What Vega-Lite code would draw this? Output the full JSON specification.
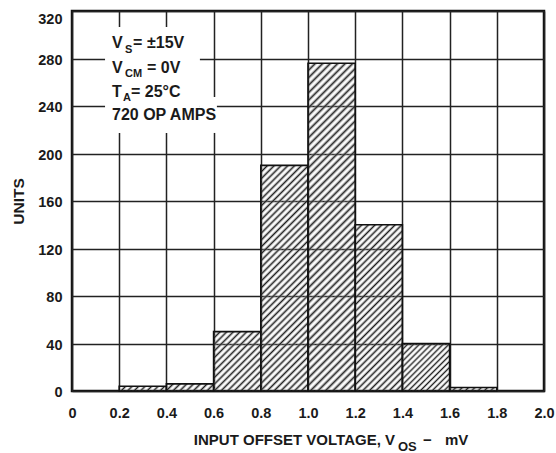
{
  "$schema": "https://vega.github.io/schema/vega-lite/v6.json",
  "width": 472,
  "height": 380,
  "autosize": {"type": "none"},
  "padding": {"left": 72, "top": 11, "right": 12, "bottom": 62},
  "background": "#ffffff",
  "config": {
    "font": "Liberation Sans",
    "view": {"stroke": "#111111", "strokeWidth": 2.5},
    "axis": {
      "labelFont": "Liberation Sans",
      "labelFontWeight": "bold",
      "labelFontSize": 14.5,
      "labelColor": "#1a1a1a",
      "titleFont": "Liberation Sans",
      "titleFontWeight": "bold",
      "titleFontSize": 15.5,
      "titleColor": "#1a1a1a",
      "domain": false,
      "ticks": false,
      "grid": true,
      "gridColor": "#222222",
      "gridWidth": 1.5,
      "gridOpacity": 1,
      "labelFlush": false,
      "labelOverlap": false
    }
  },
  "layer": [
    {
      "data": {
        "values": [
          {"v_lo": 0.2, "v_hi": 0.4, "units": 4},
          {"v_lo": 0.4, "v_hi": 0.6, "units": 6},
          {"v_lo": 0.6, "v_hi": 0.8, "units": 50},
          {"v_lo": 0.8, "v_hi": 1.0, "units": 190},
          {"v_lo": 1.0, "v_hi": 1.2, "units": 276},
          {"v_lo": 1.2, "v_hi": 1.4, "units": 140},
          {"v_lo": 1.4, "v_hi": 1.6, "units": 40},
          {"v_lo": 1.6, "v_hi": 1.8, "units": 3}
        ]
      },
      "mark": {"type": "rect", "stroke": "#111111", "strokeWidth": 1.6},
      "encoding": {
        "x": {
          "field": "v_lo", "type": "quantitative",
          "scale": {"domain": [0, 2], "nice": false, "zero": false},
          "axis": {
            "values": [0, 0.2, 0.4, 0.6, 0.8, 1.0, 1.2, 1.4, 1.6, 1.8, 2.0],
            "labelExpr": "datum.value == 0 ? '0' : format(datum.value, '.1f')",
            "labelPadding": 15,
            "title": null
          }
        },
        "x2": {"field": "v_hi"},
        "y": {
          "field": "units", "type": "quantitative",
          "scale": {"domain": [0, 320], "nice": false},
          "axis": {
            "values": [0, 40, 80, 120, 160, 200, 240, 280, 320],
            "labelPadding": 10,
            "labelOffset": 1.5,
            "labelBaseline": {"condition": {"test": "datum.value == 320", "value": "top"}, "value": "middle"},
            "title": "UNITS",
            "titlePadding": 11
          }
        },
        "y2": {"datum": 0},
        "fill": {
          "condition": [
            {"test": "datum.v_lo == 1.0", "value": {"gradient": "linear", "x1": 0, "y1": 0, "x2": 0.1614, "y2": 1.12077, "stops": [
              {"offset": 0, "color": "#1c1c1c"}, {"offset": 0.01, "color": "#fff0"}, {"offset": 0.02, "color": "#1c1c1c"}, {"offset": 0.03, "color": "#fff0"}, {"offset": 0.04, "color": "#1c1c1c"}, {"offset": 0.05, "color": "#fff0"}, {"offset": 0.06, "color": "#1c1c1c"}, {"offset": 0.07, "color": "#fff0"}, {"offset": 0.08, "color": "#1c1c1c"}, {"offset": 0.09, "color": "#fff0"},
              {"offset": 0.10, "color": "#1c1c1c"}, {"offset": 0.11, "color": "#fff0"}, {"offset": 0.12, "color": "#1c1c1c"}, {"offset": 0.13, "color": "#fff0"}, {"offset": 0.14, "color": "#1c1c1c"}, {"offset": 0.15, "color": "#fff0"}, {"offset": 0.16, "color": "#1c1c1c"}, {"offset": 0.17, "color": "#fff0"}, {"offset": 0.18, "color": "#1c1c1c"}, {"offset": 0.19, "color": "#fff0"},
              {"offset": 0.20, "color": "#1c1c1c"}, {"offset": 0.21, "color": "#fff0"}, {"offset": 0.22, "color": "#1c1c1c"}, {"offset": 0.23, "color": "#fff0"}, {"offset": 0.24, "color": "#1c1c1c"}, {"offset": 0.25, "color": "#fff0"}, {"offset": 0.26, "color": "#1c1c1c"}, {"offset": 0.27, "color": "#fff0"}, {"offset": 0.28, "color": "#1c1c1c"}, {"offset": 0.29, "color": "#fff0"},
              {"offset": 0.30, "color": "#1c1c1c"}, {"offset": 0.31, "color": "#fff0"}, {"offset": 0.32, "color": "#1c1c1c"}, {"offset": 0.33, "color": "#fff0"}, {"offset": 0.34, "color": "#1c1c1c"}, {"offset": 0.35, "color": "#fff0"}, {"offset": 0.36, "color": "#1c1c1c"}, {"offset": 0.37, "color": "#fff0"}, {"offset": 0.38, "color": "#1c1c1c"}, {"offset": 0.39, "color": "#fff0"},
              {"offset": 0.40, "color": "#1c1c1c"}, {"offset": 0.41, "color": "#fff0"}, {"offset": 0.42, "color": "#1c1c1c"}, {"offset": 0.43, "color": "#fff0"}, {"offset": 0.44, "color": "#1c1c1c"}, {"offset": 0.45, "color": "#fff0"}, {"offset": 0.46, "color": "#1c1c1c"}, {"offset": 0.47, "color": "#fff0"}, {"offset": 0.48, "color": "#1c1c1c"}, {"offset": 0.49, "color": "#fff0"},
              {"offset": 0.50, "color": "#1c1c1c"}, {"offset": 0.51, "color": "#fff0"}, {"offset": 0.52, "color": "#1c1c1c"}, {"offset": 0.53, "color": "#fff0"}, {"offset": 0.54, "color": "#1c1c1c"}, {"offset": 0.55, "color": "#fff0"}, {"offset": 0.56, "color": "#1c1c1c"}, {"offset": 0.57, "color": "#fff0"}, {"offset": 0.58, "color": "#1c1c1c"}, {"offset": 0.59, "color": "#fff0"},
              {"offset": 0.60, "color": "#1c1c1c"}, {"offset": 0.61, "color": "#fff0"}, {"offset": 0.62, "color": "#1c1c1c"}, {"offset": 0.63, "color": "#fff0"}, {"offset": 0.64, "color": "#1c1c1c"}, {"offset": 0.65, "color": "#fff0"}, {"offset": 0.66, "color": "#1c1c1c"}, {"offset": 0.67, "color": "#fff0"}, {"offset": 0.68, "color": "#1c1c1c"}, {"offset": 0.69, "color": "#fff0"},
              {"offset": 0.70, "color": "#1c1c1c"}, {"offset": 0.71, "color": "#fff0"}, {"offset": 0.72, "color": "#1c1c1c"}, {"offset": 0.73, "color": "#fff0"}, {"offset": 0.74, "color": "#1c1c1c"}, {"offset": 0.75, "color": "#fff0"}, {"offset": 0.76, "color": "#1c1c1c"}, {"offset": 0.77, "color": "#fff0"}, {"offset": 0.78, "color": "#1c1c1c"}, {"offset": 0.79, "color": "#fff0"},
              {"offset": 0.80, "color": "#1c1c1c"}, {"offset": 0.81, "color": "#fff0"}, {"offset": 0.82, "color": "#1c1c1c"}, {"offset": 0.83, "color": "#fff0"}, {"offset": 0.84, "color": "#1c1c1c"}, {"offset": 0.85, "color": "#fff0"}, {"offset": 0.86, "color": "#1c1c1c"}, {"offset": 0.87, "color": "#fff0"}, {"offset": 0.88, "color": "#1c1c1c"}, {"offset": 0.89, "color": "#fff0"},
              {"offset": 0.90, "color": "#1c1c1c"}, {"offset": 0.91, "color": "#fff0"}, {"offset": 0.92, "color": "#1c1c1c"}, {"offset": 0.93, "color": "#fff0"}, {"offset": 0.94, "color": "#1c1c1c"}, {"offset": 0.95, "color": "#fff0"}, {"offset": 0.96, "color": "#1c1c1c"}, {"offset": 0.97, "color": "#fff0"}, {"offset": 0.98, "color": "#1c1c1c"}, {"offset": 0.99, "color": "#fff0"},
              {"offset": 1, "color": "#1c1c1c"}
            ]}},
            {"test": "datum.v_lo == 0.8", "value": {"gradient": "linear", "x1": 0, "y1": 0, "x2": 0.24236, "y2": 1.15852, "stops": [
              {"offset": 0, "color": "#1c1c1c"}, {"offset": 0.0125, "color": "#fff0"}, {"offset": 0.025, "color": "#1c1c1c"}, {"offset": 0.0375, "color": "#fff0"}, {"offset": 0.05, "color": "#1c1c1c"}, {"offset": 0.0625, "color": "#fff0"}, {"offset": 0.075, "color": "#1c1c1c"}, {"offset": 0.0875, "color": "#fff0"},
              {"offset": 0.1, "color": "#1c1c1c"}, {"offset": 0.1125, "color": "#fff0"}, {"offset": 0.125, "color": "#1c1c1c"}, {"offset": 0.1375, "color": "#fff0"}, {"offset": 0.15, "color": "#1c1c1c"}, {"offset": 0.1625, "color": "#fff0"}, {"offset": 0.175, "color": "#1c1c1c"}, {"offset": 0.1875, "color": "#fff0"},
              {"offset": 0.2, "color": "#1c1c1c"}, {"offset": 0.2125, "color": "#fff0"}, {"offset": 0.225, "color": "#1c1c1c"}, {"offset": 0.2375, "color": "#fff0"}, {"offset": 0.25, "color": "#1c1c1c"}, {"offset": 0.2625, "color": "#fff0"}, {"offset": 0.275, "color": "#1c1c1c"}, {"offset": 0.2875, "color": "#fff0"},
              {"offset": 0.3, "color": "#1c1c1c"}, {"offset": 0.3125, "color": "#fff0"}, {"offset": 0.325, "color": "#1c1c1c"}, {"offset": 0.3375, "color": "#fff0"}, {"offset": 0.35, "color": "#1c1c1c"}, {"offset": 0.3625, "color": "#fff0"}, {"offset": 0.375, "color": "#1c1c1c"}, {"offset": 0.3875, "color": "#fff0"},
              {"offset": 0.4, "color": "#1c1c1c"}, {"offset": 0.4125, "color": "#fff0"}, {"offset": 0.425, "color": "#1c1c1c"}, {"offset": 0.4375, "color": "#fff0"}, {"offset": 0.45, "color": "#1c1c1c"}, {"offset": 0.4625, "color": "#fff0"}, {"offset": 0.475, "color": "#1c1c1c"}, {"offset": 0.4875, "color": "#fff0"},
              {"offset": 0.5, "color": "#1c1c1c"}, {"offset": 0.5125, "color": "#fff0"}, {"offset": 0.525, "color": "#1c1c1c"}, {"offset": 0.5375, "color": "#fff0"}, {"offset": 0.55, "color": "#1c1c1c"}, {"offset": 0.5625, "color": "#fff0"}, {"offset": 0.575, "color": "#1c1c1c"}, {"offset": 0.5875, "color": "#fff0"},
              {"offset": 0.6, "color": "#1c1c1c"}, {"offset": 0.6125, "color": "#fff0"}, {"offset": 0.625, "color": "#1c1c1c"}, {"offset": 0.6375, "color": "#fff0"}, {"offset": 0.65, "color": "#1c1c1c"}, {"offset": 0.6625, "color": "#fff0"}, {"offset": 0.675, "color": "#1c1c1c"}, {"offset": 0.6875, "color": "#fff0"},
              {"offset": 0.7, "color": "#1c1c1c"}, {"offset": 0.7125, "color": "#fff0"}, {"offset": 0.725, "color": "#1c1c1c"}, {"offset": 0.7375, "color": "#fff0"}, {"offset": 0.75, "color": "#1c1c1c"}, {"offset": 0.7625, "color": "#fff0"}, {"offset": 0.775, "color": "#1c1c1c"}, {"offset": 0.7875, "color": "#fff0"},
              {"offset": 0.8, "color": "#1c1c1c"}, {"offset": 0.8125, "color": "#fff0"}, {"offset": 0.825, "color": "#1c1c1c"}, {"offset": 0.8375, "color": "#fff0"}, {"offset": 0.85, "color": "#1c1c1c"}, {"offset": 0.8625, "color": "#fff0"}, {"offset": 0.875, "color": "#1c1c1c"}, {"offset": 0.8875, "color": "#fff0"},
              {"offset": 0.9, "color": "#1c1c1c"}, {"offset": 0.9125, "color": "#fff0"}, {"offset": 0.925, "color": "#1c1c1c"}, {"offset": 0.9375, "color": "#fff0"}, {"offset": 0.95, "color": "#1c1c1c"}, {"offset": 0.9625, "color": "#fff0"}, {"offset": 0.975, "color": "#1c1c1c"}, {"offset": 0.9875, "color": "#fff0"},
              {"offset": 1, "color": "#1c1c1c"}
            ]}},
            {"test": "datum.v_lo == 1.2", "value": {"gradient": "linear", "x1": 0, "y1": 0, "x2": 0.33732, "y2": 1.18814, "stops": [
              {"offset": 0, "color": "#1c1c1c"}, {"offset": 0.015625, "color": "#fff0"}, {"offset": 0.03125, "color": "#1c1c1c"}, {"offset": 0.046875, "color": "#fff0"}, {"offset": 0.0625, "color": "#1c1c1c"}, {"offset": 0.078125, "color": "#fff0"}, {"offset": 0.09375, "color": "#1c1c1c"}, {"offset": 0.109375, "color": "#fff0"},
              {"offset": 0.125, "color": "#1c1c1c"}, {"offset": 0.140625, "color": "#fff0"}, {"offset": 0.15625, "color": "#1c1c1c"}, {"offset": 0.171875, "color": "#fff0"}, {"offset": 0.1875, "color": "#1c1c1c"}, {"offset": 0.203125, "color": "#fff0"}, {"offset": 0.21875, "color": "#1c1c1c"}, {"offset": 0.234375, "color": "#fff0"},
              {"offset": 0.25, "color": "#1c1c1c"}, {"offset": 0.265625, "color": "#fff0"}, {"offset": 0.28125, "color": "#1c1c1c"}, {"offset": 0.296875, "color": "#fff0"}, {"offset": 0.3125, "color": "#1c1c1c"}, {"offset": 0.328125, "color": "#fff0"}, {"offset": 0.34375, "color": "#1c1c1c"}, {"offset": 0.359375, "color": "#fff0"},
              {"offset": 0.375, "color": "#1c1c1c"}, {"offset": 0.390625, "color": "#fff0"}, {"offset": 0.40625, "color": "#1c1c1c"}, {"offset": 0.421875, "color": "#fff0"}, {"offset": 0.4375, "color": "#1c1c1c"}, {"offset": 0.453125, "color": "#fff0"}, {"offset": 0.46875, "color": "#1c1c1c"}, {"offset": 0.484375, "color": "#fff0"},
              {"offset": 0.5, "color": "#1c1c1c"}, {"offset": 0.515625, "color": "#fff0"}, {"offset": 0.53125, "color": "#1c1c1c"}, {"offset": 0.546875, "color": "#fff0"}, {"offset": 0.5625, "color": "#1c1c1c"}, {"offset": 0.578125, "color": "#fff0"}, {"offset": 0.59375, "color": "#1c1c1c"}, {"offset": 0.609375, "color": "#fff0"},
              {"offset": 0.625, "color": "#1c1c1c"}, {"offset": 0.640625, "color": "#fff0"}, {"offset": 0.65625, "color": "#1c1c1c"}, {"offset": 0.671875, "color": "#fff0"}, {"offset": 0.6875, "color": "#1c1c1c"}, {"offset": 0.703125, "color": "#fff0"}, {"offset": 0.71875, "color": "#1c1c1c"}, {"offset": 0.734375, "color": "#fff0"},
              {"offset": 0.75, "color": "#1c1c1c"}, {"offset": 0.765625, "color": "#fff0"}, {"offset": 0.78125, "color": "#1c1c1c"}, {"offset": 0.796875, "color": "#fff0"}, {"offset": 0.8125, "color": "#1c1c1c"}, {"offset": 0.828125, "color": "#fff0"}, {"offset": 0.84375, "color": "#1c1c1c"}, {"offset": 0.859375, "color": "#fff0"},
              {"offset": 0.875, "color": "#1c1c1c"}, {"offset": 0.890625, "color": "#fff0"}, {"offset": 0.90625, "color": "#1c1c1c"}, {"offset": 0.921875, "color": "#fff0"}, {"offset": 0.9375, "color": "#1c1c1c"}, {"offset": 0.953125, "color": "#fff0"}, {"offset": 0.96875, "color": "#1c1c1c"}, {"offset": 0.984375, "color": "#fff0"},
              {"offset": 1, "color": "#1c1c1c"}
            ]}},
            {"test": "datum.v_lo == 0.6", "value": {"gradient": "linear", "x1": 0, "y1": 0, "x2": 0.8744, "y2": 1.0999, "stops": [
              {"offset": 0, "color": "#1c1c1c"}, {"offset": 0.03125, "color": "#fff0"}, {"offset": 0.0625, "color": "#1c1c1c"}, {"offset": 0.09375, "color": "#fff0"}, {"offset": 0.125, "color": "#1c1c1c"}, {"offset": 0.15625, "color": "#fff0"}, {"offset": 0.1875, "color": "#1c1c1c"}, {"offset": 0.21875, "color": "#fff0"},
              {"offset": 0.25, "color": "#1c1c1c"}, {"offset": 0.28125, "color": "#fff0"}, {"offset": 0.3125, "color": "#1c1c1c"}, {"offset": 0.34375, "color": "#fff0"}, {"offset": 0.375, "color": "#1c1c1c"}, {"offset": 0.40625, "color": "#fff0"}, {"offset": 0.4375, "color": "#1c1c1c"}, {"offset": 0.46875, "color": "#fff0"},
              {"offset": 0.5, "color": "#1c1c1c"}, {"offset": 0.53125, "color": "#fff0"}, {"offset": 0.5625, "color": "#1c1c1c"}, {"offset": 0.59375, "color": "#fff0"}, {"offset": 0.625, "color": "#1c1c1c"}, {"offset": 0.65625, "color": "#fff0"}, {"offset": 0.6875, "color": "#1c1c1c"}, {"offset": 0.71875, "color": "#fff0"},
              {"offset": 0.75, "color": "#1c1c1c"}, {"offset": 0.78125, "color": "#fff0"}, {"offset": 0.8125, "color": "#1c1c1c"}, {"offset": 0.84375, "color": "#fff0"}, {"offset": 0.875, "color": "#1c1c1c"}, {"offset": 0.90625, "color": "#fff0"}, {"offset": 0.9375, "color": "#1c1c1c"}, {"offset": 0.96875, "color": "#fff0"},
              {"offset": 1, "color": "#1c1c1c"}
            ]}},
            {"test": "datum.v_lo == 1.4", "value": {"gradient": "linear", "x1": 0, "y1": 0, "x2": 0.99683, "y2": 1.00316, "stops": [
              {"offset": 0, "color": "#1c1c1c"}, {"offset": 0.03125, "color": "#fff0"}, {"offset": 0.0625, "color": "#1c1c1c"}, {"offset": 0.09375, "color": "#fff0"}, {"offset": 0.125, "color": "#1c1c1c"}, {"offset": 0.15625, "color": "#fff0"}, {"offset": 0.1875, "color": "#1c1c1c"}, {"offset": 0.21875, "color": "#fff0"},
              {"offset": 0.25, "color": "#1c1c1c"}, {"offset": 0.28125, "color": "#fff0"}, {"offset": 0.3125, "color": "#1c1c1c"}, {"offset": 0.34375, "color": "#fff0"}, {"offset": 0.375, "color": "#1c1c1c"}, {"offset": 0.40625, "color": "#fff0"}, {"offset": 0.4375, "color": "#1c1c1c"}, {"offset": 0.46875, "color": "#fff0"},
              {"offset": 0.5, "color": "#1c1c1c"}, {"offset": 0.53125, "color": "#fff0"}, {"offset": 0.5625, "color": "#1c1c1c"}, {"offset": 0.59375, "color": "#fff0"}, {"offset": 0.625, "color": "#1c1c1c"}, {"offset": 0.65625, "color": "#fff0"}, {"offset": 0.6875, "color": "#1c1c1c"}, {"offset": 0.71875, "color": "#fff0"},
              {"offset": 0.75, "color": "#1c1c1c"}, {"offset": 0.78125, "color": "#fff0"}, {"offset": 0.8125, "color": "#1c1c1c"}, {"offset": 0.84375, "color": "#fff0"}, {"offset": 0.875, "color": "#1c1c1c"}, {"offset": 0.90625, "color": "#fff0"}, {"offset": 0.9375, "color": "#1c1c1c"}, {"offset": 0.96875, "color": "#fff0"},
              {"offset": 1, "color": "#1c1c1c"}
            ]}},
            {"test": "datum.v_lo == 0.4", "value": {"gradient": "linear", "x1": 0, "y1": 0, "x2": 1.1254, "y2": 0.1699, "stops": [
              {"offset": 0, "color": "#1c1c1c"}, {"offset": 0.0625, "color": "#fff0"}, {"offset": 0.125, "color": "#1c1c1c"}, {"offset": 0.1875, "color": "#fff0"}, {"offset": 0.25, "color": "#1c1c1c"}, {"offset": 0.3125, "color": "#fff0"}, {"offset": 0.375, "color": "#1c1c1c"}, {"offset": 0.4375, "color": "#fff0"},
              {"offset": 0.5, "color": "#1c1c1c"}, {"offset": 0.5625, "color": "#fff0"}, {"offset": 0.625, "color": "#1c1c1c"}, {"offset": 0.6875, "color": "#fff0"}, {"offset": 0.75, "color": "#1c1c1c"}, {"offset": 0.8125, "color": "#fff0"}, {"offset": 0.875, "color": "#1c1c1c"}, {"offset": 0.9375, "color": "#fff0"},
              {"offset": 1, "color": "#1c1c1c"}
            ]}},
            {"test": "datum.v_lo == 0.2", "value": {"gradient": "linear", "x1": 0, "y1": 0, "x2": 1.0896, "y2": 0.1097, "stops": [
              {"offset": 0, "color": "#1c1c1c"}, {"offset": 0.0625, "color": "#fff0"}, {"offset": 0.125, "color": "#1c1c1c"}, {"offset": 0.1875, "color": "#fff0"}, {"offset": 0.25, "color": "#1c1c1c"}, {"offset": 0.3125, "color": "#fff0"}, {"offset": 0.375, "color": "#1c1c1c"}, {"offset": 0.4375, "color": "#fff0"},
              {"offset": 0.5, "color": "#1c1c1c"}, {"offset": 0.5625, "color": "#fff0"}, {"offset": 0.625, "color": "#1c1c1c"}, {"offset": 0.6875, "color": "#fff0"}, {"offset": 0.75, "color": "#1c1c1c"}, {"offset": 0.8125, "color": "#fff0"}, {"offset": 0.875, "color": "#1c1c1c"}, {"offset": 0.9375, "color": "#fff0"},
              {"offset": 1, "color": "#1c1c1c"}
            ]}}
          ],
          "value": {"gradient": "linear", "x1": 0, "y1": 0, "x2": 1.06941, "y2": 0.08071, "stops": [
            {"offset": 0, "color": "#1c1c1c"}, {"offset": 0.0625, "color": "#fff0"}, {"offset": 0.125, "color": "#1c1c1c"}, {"offset": 0.1875, "color": "#fff0"}, {"offset": 0.25, "color": "#1c1c1c"}, {"offset": 0.3125, "color": "#fff0"}, {"offset": 0.375, "color": "#1c1c1c"}, {"offset": 0.4375, "color": "#fff0"},
            {"offset": 0.5, "color": "#1c1c1c"}, {"offset": 0.5625, "color": "#fff0"}, {"offset": 0.625, "color": "#1c1c1c"}, {"offset": 0.6875, "color": "#fff0"}, {"offset": 0.75, "color": "#1c1c1c"}, {"offset": 0.8125, "color": "#fff0"}, {"offset": 0.875, "color": "#1c1c1c"}, {"offset": 0.9375, "color": "#fff0"},
            {"offset": 1, "color": "#1c1c1c"}
          ]}
        }
      }
    },
    {
      "data": {"values": [{}]},
      "mark": {"type": "rect", "fill": "#ffffff", "stroke": null},
      "encoding": {
        "x": {"datum": 0.14, "type": "quantitative"},
        "x2": {"datum": 0.542},
        "y": {"datum": 306.5, "type": "quantitative"},
        "y2": {"datum": 217.3}
      }
    },
    {
      "data": {"values": [{}]},
      "mark": {"type": "rect", "fill": "#ffffff", "stroke": null},
      "encoding": {
        "x": {"datum": 0.542, "type": "quantitative"},
        "x2": {"datum": 0.614},
        "y": {"datum": 247.6, "type": "quantitative"},
        "y2": {"datum": 217.3}
      }
    },
    {
      "data": {"values": [{}]},
      "mark": {"type": "text", "text": "V", "align": "left", "baseline": "alphabetic", "font": "Liberation Sans", "fontWeight": "bold", "fontSize": 16, "color": "#1a1a1a"},
      "encoding": {"x": {"datum": 0.1695, "type": "quantitative"}, "y": {"datum": 288.5, "type": "quantitative"}}
    },
    {
      "data": {"values": [{}]},
      "mark": {"type": "text", "text": "S", "align": "left", "baseline": "alphabetic", "dx": 13, "dy": 4.5, "font": "Liberation Sans", "fontWeight": "bold", "fontSize": 11, "color": "#1a1a1a"},
      "encoding": {"x": {"datum": 0.1695, "type": "quantitative"}, "y": {"datum": 288.5, "type": "quantitative"}}
    },
    {
      "data": {"values": [{}]},
      "mark": {"type": "text", "text": "=", "align": "left", "baseline": "alphabetic", "dx": 21, "font": "Liberation Sans", "fontWeight": "bold", "fontSize": 16, "color": "#1a1a1a"},
      "encoding": {"x": {"datum": 0.1695, "type": "quantitative"}, "y": {"datum": 288.5, "type": "quantitative"}}
    },
    {
      "data": {"values": [{}]},
      "mark": {"type": "text", "text": "±15V", "align": "left", "baseline": "alphabetic", "dx": 35, "font": "Liberation Sans", "fontWeight": "bold", "fontSize": 16, "color": "#1a1a1a"},
      "encoding": {"x": {"datum": 0.1695, "type": "quantitative"}, "y": {"datum": 288.5, "type": "quantitative"}}
    },
    {
      "data": {"values": [{}]},
      "mark": {"type": "text", "text": "V", "align": "left", "baseline": "alphabetic", "font": "Liberation Sans", "fontWeight": "bold", "fontSize": 16, "color": "#1a1a1a"},
      "encoding": {"x": {"datum": 0.1695, "type": "quantitative"}, "y": {"datum": 268, "type": "quantitative"}}
    },
    {
      "data": {"values": [{}]},
      "mark": {"type": "text", "text": "CM", "align": "left", "baseline": "alphabetic", "dx": 13, "dy": 4.5, "font": "Liberation Sans", "fontWeight": "bold", "fontSize": 11, "color": "#1a1a1a"},
      "encoding": {"x": {"datum": 0.1695, "type": "quantitative"}, "y": {"datum": 268, "type": "quantitative"}}
    },
    {
      "data": {"values": [{}]},
      "mark": {"type": "text", "text": "= 0V", "align": "left", "baseline": "alphabetic", "dx": 35, "font": "Liberation Sans", "fontWeight": "bold", "fontSize": 16, "color": "#1a1a1a"},
      "encoding": {"x": {"datum": 0.1695, "type": "quantitative"}, "y": {"datum": 268, "type": "quantitative"}}
    },
    {
      "data": {"values": [{}]},
      "mark": {"type": "text", "text": "T", "align": "left", "baseline": "alphabetic", "font": "Liberation Sans", "fontWeight": "bold", "fontSize": 16, "color": "#1a1a1a"},
      "encoding": {"x": {"datum": 0.1695, "type": "quantitative"}, "y": {"datum": 248, "type": "quantitative"}}
    },
    {
      "data": {"values": [{}]},
      "mark": {"type": "text", "text": "A", "align": "left", "baseline": "alphabetic", "dx": 11, "dy": 4.5, "font": "Liberation Sans", "fontWeight": "bold", "fontSize": 11, "color": "#1a1a1a"},
      "encoding": {"x": {"datum": 0.1695, "type": "quantitative"}, "y": {"datum": 248, "type": "quantitative"}}
    },
    {
      "data": {"values": [{}]},
      "mark": {"type": "text", "text": "= 25°C", "align": "left", "baseline": "alphabetic", "dx": 19, "font": "Liberation Sans", "fontWeight": "bold", "fontSize": 16, "color": "#1a1a1a"},
      "encoding": {"x": {"datum": 0.1695, "type": "quantitative"}, "y": {"datum": 248, "type": "quantitative"}}
    },
    {
      "data": {"values": [{}]},
      "mark": {"type": "text", "text": "720 OP AMPS", "align": "left", "baseline": "alphabetic", "font": "Liberation Sans", "fontWeight": "bold", "fontSize": 16, "color": "#1a1a1a"},
      "encoding": {"x": {"datum": 0.1695, "type": "quantitative"}, "y": {"datum": 228, "type": "quantitative"}}
    },
    {
      "data": {"values": [{}]},
      "mark": {"type": "text", "text": "INPUT OFFSET VOLTAGE, V", "align": "right", "baseline": "alphabetic", "dy": 54, "font": "Liberation Sans", "fontWeight": "bold", "fontSize": 15, "color": "#1a1a1a"},
      "encoding": {"x": {"datum": 1.3686, "type": "quantitative"}, "y": {"datum": 0, "type": "quantitative"}}
    },
    {
      "data": {"values": [{}]},
      "mark": {"type": "text", "text": "OS", "align": "left", "baseline": "alphabetic", "dx": 3, "dy": 60, "font": "Liberation Sans", "fontWeight": "bold", "fontSize": 13, "color": "#1a1a1a"},
      "encoding": {"x": {"datum": 1.3686, "type": "quantitative"}, "y": {"datum": 0, "type": "quantitative"}}
    },
    {
      "data": {"values": [{}]},
      "mark": {"type": "text", "text": "−", "align": "left", "baseline": "alphabetic", "dx": 28, "dy": 54, "font": "Liberation Sans", "fontWeight": "bold", "fontSize": 15, "color": "#1a1a1a"},
      "encoding": {"x": {"datum": 1.3686, "type": "quantitative"}, "y": {"datum": 0, "type": "quantitative"}}
    },
    {
      "data": {"values": [{}]},
      "mark": {"type": "text", "text": "mV", "align": "left", "baseline": "alphabetic", "dx": 50, "dy": 54, "font": "Liberation Sans", "fontWeight": "bold", "fontSize": 15, "color": "#1a1a1a"},
      "encoding": {"x": {"datum": 1.3686, "type": "quantitative"}, "y": {"datum": 0, "type": "quantitative"}}
    }
  ]
}
